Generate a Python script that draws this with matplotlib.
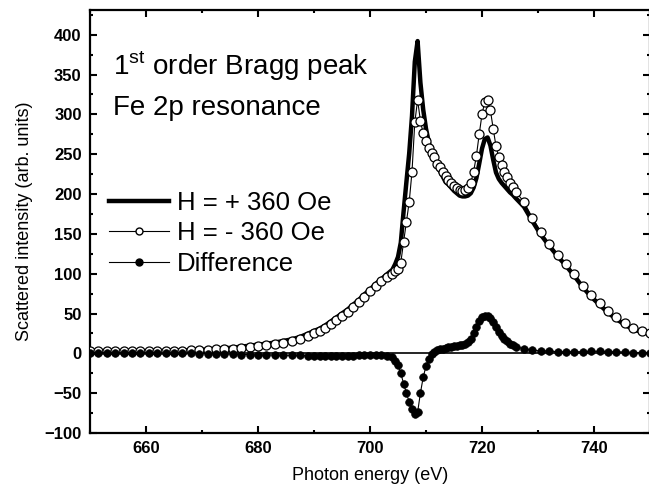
import matplotlib
matplotlib.use("Agg")
import matplotlib.pyplot as plt
from matplotlib.lines import Line2D
from matplotlib.ticker import MultipleLocator

plt.rcParams['font.family'] = ['Liberation Sans', 'DejaVu Sans']
plt.rcParams['mathtext.fontset'] = 'custom'
plt.rcParams['mathtext.rm'] = 'Liberation Sans'

# photon energy grid (eV)
energy = [650, 651.5, 653, 654.5, 656, 657.5, 659, 660.5, 662, 663.5, 665, 666.5, 668, 669.5,
          671, 672.5, 674, 675.5, 677, 678.5, 680, 681.5, 683, 684.5, 686, 687.5, 689,
          690, 691, 692, 693, 694, 695, 696, 697, 698, 699, 700, 701, 702, 703, 704,
          704.5, 705, 705.5, 706, 706.5, 707, 707.5, 708, 708.5, 709, 709.5, 710, 710.5,
          711, 711.5, 712, 712.5, 713, 713.5, 714, 714.5, 715, 715.5, 716, 716.5, 717,
          717.5, 718, 718.5, 719, 719.5, 720, 720.5, 721, 721.5, 722, 722.5, 723, 723.5,
          724, 724.5, 725, 725.5, 726,
          727.5, 729, 730.5, 732, 733.5, 735, 736.5, 738, 739.5, 741, 742.5, 744, 745.5,
          747, 748.5, 750]

# H = + 360 Oe
h_plus = [2, 2, 2, 2.5, 2, 2, 2.5, 2, 2.5, 3, 3, 3.5, 4, 4.5, 4.5, 5.5, 6.5, 7, 8.5, 9.5,
          11, 12, 13.5, 15.5, 17.5, 20.5, 25,
          28, 31, 35, 40, 45, 50, 55, 61, 67, 74, 80, 87, 93, 99, 105,
          112, 121, 139, 178, 215, 251, 298, 366, 392, 340, 306, 282, 265, 253, 244, 234,
          229, 222, 215, 212, 208, 204, 201, 198, 197, 197, 198, 201, 208, 220, 238, 257,
          269, 271, 261, 243, 227, 219, 214, 210, 206, 202, 199, 195,
          184, 166, 149, 135, 122, 110, 97, 83, 71, 61, 51, 43, 36, 30, 27, 25]

# H = - 360 Oe
h_minus = [3, 3, 3, 3, 3, 3, 3, 3, 3, 3, 3.5, 3.5, 4, 4, 4.5, 5, 5.5, 6, 7, 8, 9, 10,
           11.5, 13, 15, 18, 22,
           25, 28, 32, 37, 42, 47, 52, 58, 64, 71, 78, 85, 91, 96, 100,
           103, 106, 114, 140, 165, 190, 228, 290, 318, 292, 276, 266, 258, 252, 246, 238,
           234, 228, 222, 218, 214, 210, 207, 205, 204, 205, 207, 214, 228, 248, 275, 300,
           316, 318, 305, 282, 260, 246, 236, 228, 221, 214, 209, 203,
           190, 170, 152, 137, 124, 112, 99, 85, 73, 63, 53, 45, 38, 32, 28, 26]

# difference
diff = [1, 1, 1, 0.5, 1, 1, 0.5, 1, 0.5, 0, 0.5, 0, 0, -0.5, -0.5, -0.5, -1, -1, -1.5,
        -1.5, -2, -2, -2, -2.5, -2.5, -2.5, -3,
        -3, -3, -3, -3, -3, -3, -3, -3, -2.5, -2.5, -2.5, -2, -2, -3, -5,
        -9, -15, -25, -38, -50, -61, -70, -76, -74, -50, -30, -16, -7, -1, 2, 4, 5, 6,
        7, 8, 8, 9, 9, 10, 11, 12, 14, 18, 25, 33, 40, 45, 47, 47, 44, 39, 33, 27, 22,
        18, 15, 12, 10, 8,
        6, 4, 3, 3, 2, 2, 2, 2, 2.5, 2.5, 2, 2, 1.5, 1, 1, 1]

fig = plt.figure(figsize=(6.49, 4.94), dpi=100)
ax = fig.add_axes([90 / 649, 1 - 433 / 494, 560 / 649, 423 / 494])

ax.axhline(0, color='black', lw=1.2, zorder=1)
ax.plot(energy, h_plus, color='black', lw=3.2, zorder=2)
ax.plot(energy, h_minus, color='black', lw=0.8, marker='o', ms=6.5,
        mfc='white', mec='black', mew=0.9, zorder=3)
ax.plot(energy, diff, color='black', lw=0.8, marker='o', ms=5.5,
        mfc='black', mec='black', mew=0.5, zorder=4)

ax.set_xlim(650, 750)
ax.set_ylim(-100, 431)
ax.xaxis.set_major_locator(MultipleLocator(20))
ax.xaxis.set_minor_locator(MultipleLocator(10))
ax.yaxis.set_major_locator(MultipleLocator(50))
ax.yaxis.set_minor_locator(MultipleLocator(25))
ax.tick_params(which='both', direction='in', top=True, right=True, width=1.5)
ax.tick_params(which='major', length=5, pad=6, labelsize=12)
ax.tick_params(which='minor', length=2.5)
for lab in ax.get_xticklabels() + ax.get_yticklabels():
    lab.set_fontweight('bold')
for sp in ax.spines.values():
    sp.set_linewidth(1.6)

ax.set_xlabel('Photon energy (eV)', fontsize=13, labelpad=8)
ax.set_ylabel('Scattered intensity (arb. units)', fontsize=13, labelpad=8)

fig.text(113 / 649, 1 - 75 / 494, r'1$^{\mathrm{st}}$ order Bragg peak', fontsize=20,
         va='baseline', ha='left')
fig.text(113 / 649, 1 - 115 / 494, 'Fe 2p resonance', fontsize=20,
         va='baseline', ha='left')

handles = [
    Line2D([], [], color='black', lw=3.2),
    Line2D([], [], color='black', lw=0.8, marker='o', ms=5, mfc='white', mec='black'),
    Line2D([], [], color='black', lw=0.8, marker='o', ms=5, mfc='black', mec='black'),
]
labels = ['H = + 360 Oe', 'H = - 360 Oe', 'Difference']
fig.legend(handles, labels, loc='upper left', bbox_to_anchor=(109 / 649, 1 - 191 / 494),
           frameon=False, fontsize=18.5, handlelength=2.35, handletextpad=0.28,
           labelspacing=0.25, borderpad=0, borderaxespad=0, numpoints=1)

fig.savefig('out.png', dpi=100)
